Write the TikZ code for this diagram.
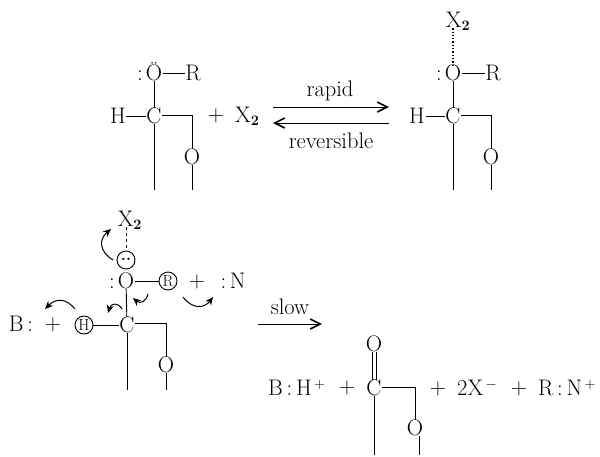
\documentclass[tikz,border=0pt]{standalone}
\usepackage{amsmath}
\usepackage{xcolor}
\usepackage{tikz}
\usetikzlibrary{arrows.meta}
\tikzset{
	atom/.style={inner sep=0.5pt, text height=15pt, text depth=0pt, font=\fontsize{22.5}{26}\selectfont},
	word/.style={inner sep=1pt, font=\fontsize{22.5}{26}\selectfont},
	ringed/.style={draw, circle, inner sep=0pt, minimum size=18pt, line width=0.9pt, font=\fontsize{16}{18}\selectfont},
	bond/.style={line width=0.9pt},
	rxn/.style={line width=1pt, -{Straight Barb[length=10pt,width=10pt,line width=1.6pt]}},
	curly/.style={line width=1pt, -{Stealth[length=8pt,width=7pt]}}
}
\begin{document}
\begin{tikzpicture}[x=1pt,y=-1pt]
			\useasboundingbox (0,0) rectangle (600,456);
			
			% top left
			\node[atom] (o1) at (154,73) {\"O};
			\node[atom] (colon1) at (140,73) {:};
			\node[atom] (r1) at (193,73) {R};
			\node[atom] (c1) at (154,116) {C};
			\node[atom] (h1) at (118,116) {H};
			\node[atom] (ox1) at (192,157) {O};
			\coordinate (k1) at (192,115);
			\coordinate (t1) at (154,190);
			\coordinate (u1) at (192,190);
			\draw[bond] (o1) -- (r1);
			\draw[bond] (o1) -- (c1);
			\draw[bond] (h1) -- (c1);
			\draw[bond] (c1.east |- k1) -- (k1) -- (ox1);
			\draw[bond] (c1) -- (t1);
			\draw[bond] (ox1) -- (u1);
			\node[word] (plus1) at (216,116) {+};
			\node[word,anchor=west] (x1) at (234,116) {X$_{\mathbf{2}}$};
			
			% equilibrium
			\coordinate (a1) at (273,107);
			\coordinate (a2) at (389,107);
			\coordinate (a3) at (389,123);
			\coordinate (a4) at (273,123);
			\draw[rxn] (a1) -- (a2);
			\draw[rxn] (a3) -- (a4);
			\node[word] (rapid) at (330,91) {rapid};
			\node[word] (rev) at (331,141) {reversible};
			
			% top right
			\node[atom] (h2) at (417,116) {H};
			\node[atom] (c2) at (453,116) {C};
			\node[atom] (o2) at (453,73) {O};
			\node[atom] (colon2) at (439,73) {:};
			\node[atom] (r2) at (493,73) {R};
			\node[atom] (ox2) at (491,157) {O};
			\node[atom] (x2) at (458,20) {X$_{\mathbf{2}}$};
			\coordinate (k2) at (491,115);
			\coordinate (t2) at (453,190);
			\coordinate (u2) at (491,190);
			\draw[bond] (o2) -- (r2);
			\draw[bond] (o2) -- (c2);
			\draw[bond] (h2) -- (c2);
			\draw[bond] (c2.east |- k2) -- (k2) -- (ox2);
			\draw[bond] (c2) -- (t2);
			\draw[bond] (ox2) -- (u2);
			\draw[line width=1.3pt,dotted] (x2.south -| o2) -- (o2);
			
			% lower left
			\node[atom] (x3) at (130,219) {X$_{\mathbf{2}}$};
			\node[ringed] (lp) at (126,260) {\raisebox{2pt}{\bfseries..}};
			\node[atom] (o3) at (126,281) {O};
			\node[atom] (colon3) at (112,281) {:};
			\node[ringed] (r3) at (168,281) {R};
			\node[word] (plus2) at (197,282) {+};
			\node[atom] (n3) at (233,281) {:\,N};
			\node[atom] (b3) at (21,324) {B\,:};
			\node[word] (plus3) at (53,325) {+};
			\node[ringed] (h3) at (84,325) {H};
			\node[atom] (c3) at (127,325) {C};
			\node[atom] (ox3) at (166,365) {O};
			\coordinate (k3) at (166,323);
			\coordinate (t3) at (127,390);
			\coordinate (u3) at (166,390);
			\draw[bond,dashed] (x3.south -| lp) -- (lp);
			\draw[bond] (o3) -- (r3);
			\draw[bond] (o3) -- (c3);
			\draw[bond] (h3) -- (c3);
			\draw[bond] (c3.east |- k3) -- (k3) -- (ox3);
			\draw[bond] (c3) -- (t3);
			\draw[bond] (ox3) -- (u3);
			
			% electron shifts
			\coordinate (e1) at (113,260);
			\coordinate (e2) at (111,229);
			\coordinate (e3) at (75,309);
			\coordinate (e4) at (45,309);
			\coordinate (e5) at (122,309);
			\coordinate (e6) at (108,313);
			\coordinate (e7) at (148,294);
			\coordinate (e8) at (133,298);
			\coordinate (e9) at (183,297);
			\coordinate (e10) at (213,297);
			\draw[curly] (e1) .. controls (100,252) and (98,240) .. (e2);
			\draw[curly] (e3) .. controls (66,298) and (56,298) .. (e4);
			\draw[curly] (e5) .. controls (118,302) and (111,303) .. (e6);
			\draw[curly] (e7) .. controls (146,302) and (140,304) .. (e8);
			\draw[curly] (e9) .. controls (192,309) and (204,309) .. (e10);
			
			% slow step
			\coordinate (s1) at (258,324);
			\coordinate (s2) at (322,324);
			\draw[rxn] (s1) -- (s2);
			\node[word] (slow) at (290,307) {slow};
			
			% products
			\node[word,anchor=west] (bh) at (267,388) {B\,:\,H$^{\,+}$};
			\node[word] (plus4) at (347,388) {+};
			\node[atom] (c4) at (374,388) {C};
			\node[atom] (o4) at (374,344) {O};
			\node[atom] (ox4) at (415,428) {O};
			\coordinate (k4) at (415,387);
			\coordinate (t4) at (374,455);
			\coordinate (u4) at (419,455);
			\draw[bond,transform canvas={xshift=-2pt}] (o4) -- (c4);
			\draw[bond,transform canvas={xshift=2pt}] (o4) -- (c4);
			\draw[bond] (c4.east |- k4) -- (k4) -- (ox4);
			\draw[bond] (c4) -- (t4);
			\draw[bond] (ox4.south -| u4) -- (u4);
			\node[word] (plus5) at (438,389) {+};
			\node[word,anchor=west] (xm) at (456,388) {2X$^{\,-}$};
			\node[word] (plus6) at (519,389) {+};
			\node[word,anchor=west] (rn) at (537,388) {R\,:\,N$^{\,+}$};
			
			\end{tikzpicture}
\end{document}
